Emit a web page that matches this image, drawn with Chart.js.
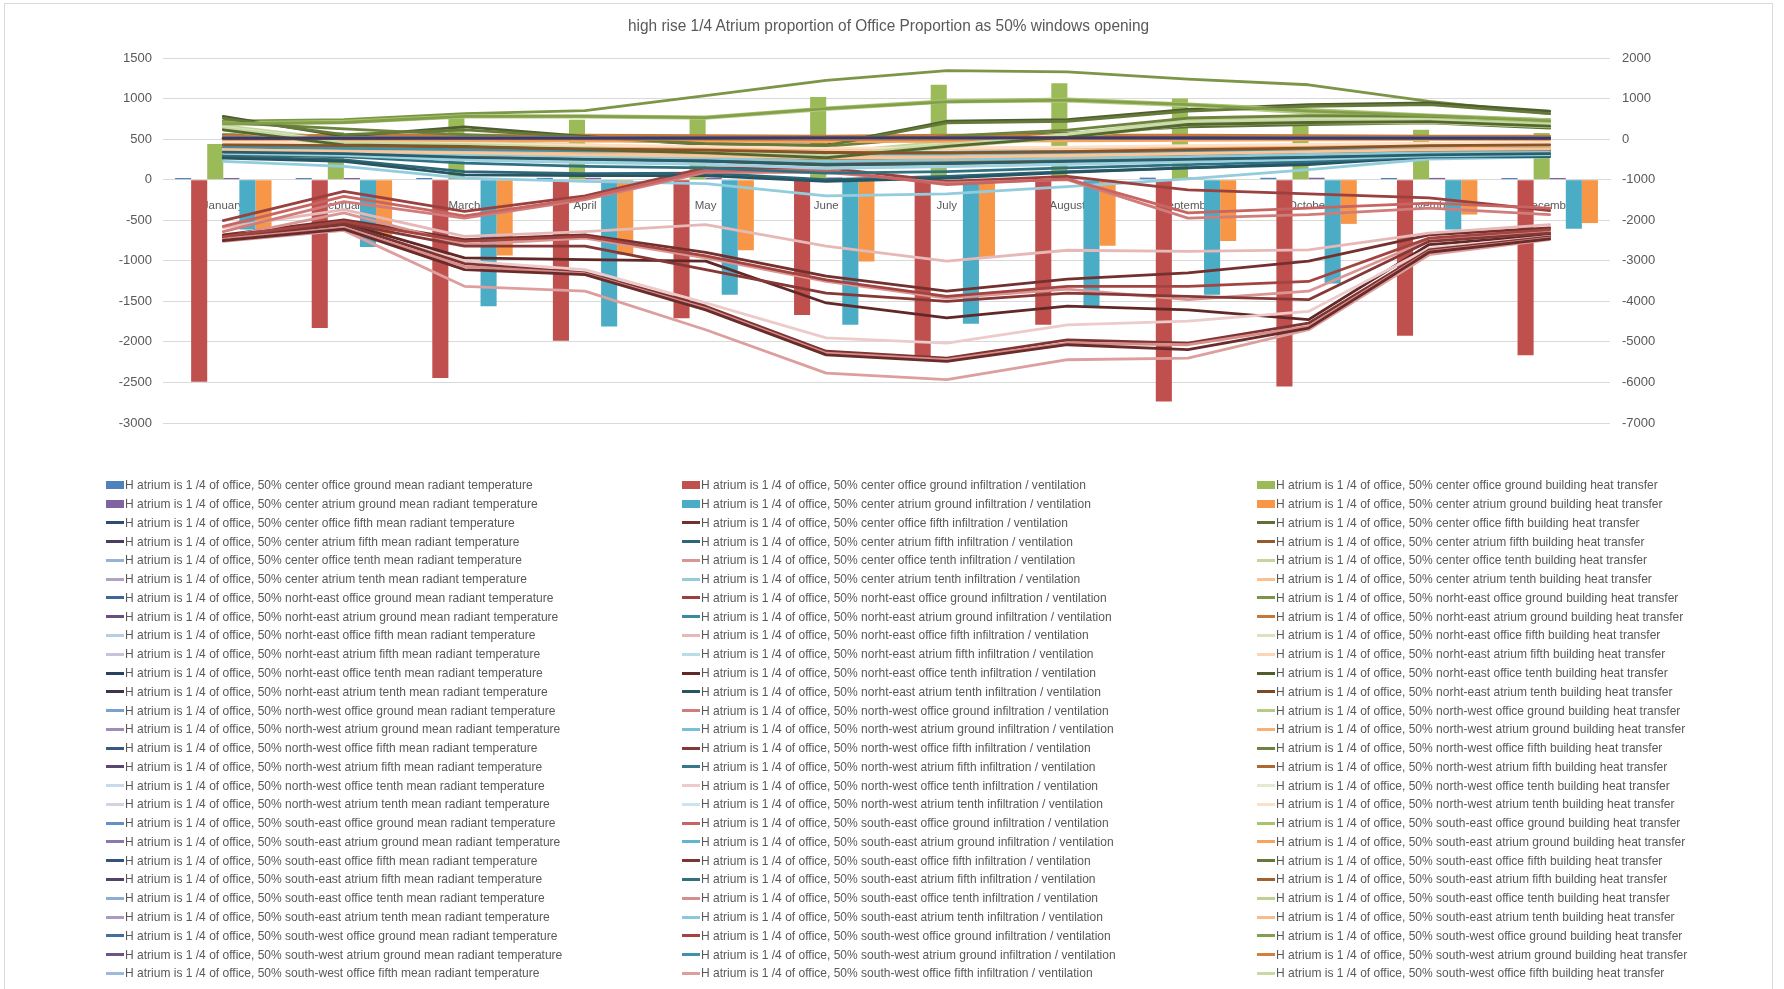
<!DOCTYPE html>
<html><head><meta charset="utf-8">
<script src="https://cdn.jsdelivr.net/npm/chart.js@4.4.0/dist/chart.umd.min.js"></script>
<style>
html,body{margin:0;padding:0;background:#fff;width:1784px;height:989px;overflow:hidden;}
#frame{position:absolute;left:4px;top:3px;width:1769px;height:1000px;border:1px solid #D9D9D9;box-sizing:border-box;}
#c{position:absolute;left:0;top:0;}
#title{position:absolute;top:17px;white-space:nowrap;color:#595959;font-family:"Liberation Sans",Arial,sans-serif;font-size:15.6px;line-height:18px;transform-origin:0 50%;}
.lg{position:absolute;height:18px;display:flex;align-items:center;white-space:nowrap;}
.lg .mk{display:inline-block;width:18px;flex:0 0 18px;}
.lg .tx{display:inline-block;margin-left:1px;color:#595959;font-family:"Liberation Sans",Arial,sans-serif;font-size:12.4px;line-height:18px;transform-origin:0 50%;}
</style></head>
<body>
<div id="frame"></div>
<canvas id="c" width="1784" height="989"></canvas>
<div id="title"></div>
<div id="legend"></div>
<script>
const chartTitle = 'high rise 1/4 Atrium proportion of Office Proportion as 50% windows opening';
const months = ['January','February','March','April','May','June','July','August','September','October','November','December'];
const locationNames = ['center','norht-east','north-west','south-east','south-west'];
const positionNames = ['office ground','atrium ground','office fifth','atrium fifth','office tenth','atrium tenth'];
const metricNames = ['mean radiant temperature','infiltration / ventilation','building heat transfer'];
const leftTickValues = [-3000,-2500,-2000,-1500,-1000,-500,0,500,1000,1500];
const rightTickValues = [-7000,-6000,-5000,-4000,-3000,-2000,-1000,0,1000,2000];

// ---- bars (primary axis) ----
const mrt_c_og = [20, 20, 21, 22, 24, 26, 27, 27, 25, 23, 21, 20];
const inf_c_og = [-2490, -1830, -2445, -1985, -1710, -1670, -2185, -1790, -2735, -2550, -1925, -2165];
const ht_c_og  = [440, 585, 790, 740, 750, 1020, 1170, 1190, 1000, 790, 615, 575];
const mrt_c_ag = [21, 21, 22, 23, 25, 27, 28, 28, 26, 24, 22, 21];
const inf_c_ag = [-615, -830, -1560, -1810, -1420, -1790, -1775, -1560, -1420, -1280, -615, -605];
const ht_c_ag  = [-680, -690, -935, -925, -870, -1010, -965, -815, -755, -545, -430, -535];

// ---- lines (secondary axis): mean radiant temperature ----
const mrt_c_o5  = [21, 21, 22, 24, 26, 28, 29, 29, 27, 25, 23, 21];
const mrt_c_a5  = [20, 20, 21, 23, 25, 27, 28, 28, 26, 24, 22, 20];
const mrt_c_o10 = [22, 22, 23, 25, 27, 29, 30, 30, 28, 26, 23, 22];
const mrt_c_a10 = [21, 21, 22, 24, 26, 28, 30, 29, 27, 25, 22, 21];
const mrt_ne_og = [19, 19, 21, 23, 25, 27, 29, 29, 26, 24, 21, 19];
const mrt_ne_ag = [18, 18, 20, 22, 24, 26, 28, 28, 25, 23, 20, 18];
const mrt_ne_o5 = [21, 21, 22, 24, 26, 28, 29, 29, 27, 25, 22, 21];
const mrt_ne_a5 = [20, 20, 21, 23, 25, 27, 28, 28, 26, 24, 21, 20];
const mrt_ne_o10 = [22, 22, 23, 25, 27, 29, 30, 30, 28, 26, 23, 22];
const mrt_ne_a10 = [21, 21, 22, 24, 26, 28, 29, 29, 27, 25, 22, 21];
const mrt_nw_og = [19, 19, 21, 23, 25, 28, 29, 29, 26, 24, 21, 19];
const mrt_nw_ag = [18, 18, 20, 22, 24, 26, 28, 28, 25, 23, 20, 18];
const mrt_nw_o5 = [21, 21, 22, 24, 26, 28, 30, 29, 27, 25, 23, 21];
const mrt_nw_a5 = [20, 20, 21, 23, 25, 27, 29, 28, 26, 24, 22, 20];
const mrt_nw_o10 = [22, 22, 23, 25, 27, 29, 31, 30, 28, 26, 23, 22];
const mrt_nw_a10 = [21, 21, 22, 24, 26, 28, 30, 29, 27, 25, 22, 21];
const mrt_se_og = [19, 20, 21, 23, 25, 27, 29, 29, 27, 24, 21, 19];
const mrt_se_ag = [18, 19, 20, 22, 24, 26, 28, 28, 26, 23, 20, 18];
const mrt_se_o5 = [21, 21, 23, 24, 26, 28, 30, 30, 28, 25, 23, 21];
const mrt_se_a5 = [20, 20, 22, 23, 25, 27, 29, 29, 27, 24, 22, 20];
const mrt_se_o10 = [22, 22, 24, 25, 27, 29, 31, 31, 29, 26, 23, 22];
const mrt_se_a10 = [21, 21, 23, 24, 26, 28, 30, 30, 28, 25, 22, 21];
const mrt_sw_og = [19, 19, 21, 23, 25, 28, 30, 29, 27, 24, 21, 19];
const mrt_sw_ag = [18, 18, 20, 22, 24, 27, 29, 28, 26, 23, 20, 18];
const mrt_sw_o5 = [21, 21, 22, 24, 26, 29, 30, 30, 28, 25, 23, 21];
const mrt_sw_a5 = [20, 20, 21, 23, 25, 28, 29, 29, 27, 24, 22, 20];
const mrt_sw_o10 = [22, 22, 23, 25, 27, 30, 31, 31, 29, 26, 23, 22];
const mrt_sw_a10 = [21, 21, 22, 24, 26, 29, 30, 30, 28, 25, 22, 21];

// ---- lines: infiltration / ventilation ----
const inf_c_o5  = [-2360, -1990, -2480, -2360, -2790, -3380, -3750, -3450, -3300, -3010, -2360, -2190];
const inf_c_a5  = [-430, -510, -800, -850, -840, -1000, -920, -800, -710, -590, -430, -380];
const inf_c_o10 = [-2420, -1820, -2600, -2440, -2930, -3510, -3920, -3700, -3960, -3750, -2480, -2280];
const inf_c_a10 = [-550, -670, -960, -1040, -1100, -1400, -1350, -1170, -980, -750, -490, -440];
const inf_ne_og = [-2010, -1290, -1780, -1400, -710, -710, -1040, -920, -1250, -1350, -1450, -1760];
const inf_ne_ag = [-160, -200, -220, -260, -280, -330, -300, -280, -260, -260, -240, -220];
const inf_ne_o5 = [-2180, -1740, -2400, -2280, -2110, -2640, -3010, -2740, -2770, -2730, -2320, -2110];
const inf_ne_a5 = [-220, -240, -260, -300, -340, -380, -360, -340, -330, -310, -290, -280];
const inf_ne_o10 = [-2380, -2070, -2930, -2970, -3010, -4040, -4410, -4120, -4210, -4450, -2600, -2360];
const inf_ne_a10 = [-470, -550, -880, -900, -900, -1040, -960, -820, -710, -630, -440, -430];
const inf_nw_og = [-2280, -1540, -1950, -1490, -820, -820, -1080, -1000, -1950, -1860, -1700, -1860];
const inf_nw_ag = [-260, -290, -300, -330, -360, -430, -380, -360, -340, -330, -300, -290];
const inf_nw_o5 = [-2460, -2070, -2640, -2640, -3220, -3800, -4000, -3800, -3880, -3960, -2520, -2320];
const inf_nw_a5 = [-330, -360, -430, -470, -510, -590, -550, -510, -470, -430, -380, -360];
const inf_nw_o10 = [-2480, -2150, -3010, -3220, -4040, -4900, -5030, -4580, -4490, -4250, -2690, -2400];
const inf_nw_a10 = [-340, -380, -470, -550, -610, -710, -670, -610, -550, -490, -430, -380];
const inf_se_og = [-2150, -1410, -1890, -1450, -770, -770, -1120, -980, -1820, -1700, -1580, -1700];
const inf_se_ag = [-180, -210, -240, -260, -290, -340, -330, -300, -290, -270, -240, -230];
const inf_se_o5 = [-2440, -2110, -3070, -3300, -4120, -5230, -5400, -4950, -5030, -4540, -2730, -2410];
const inf_se_a5 = [-380, -430, -590, -670, -710, -840, -800, -710, -630, -550, -440, -410];
const inf_se_o10 = [-2460, -2190, -3140, -3320, -4170, -5280, -5440, -5030, -5070, -4620, -2770, -2440];
const inf_se_a10 = [-300, -340, -380, -430, -470, -550, -510, -470, -430, -380, -340, -330];
const inf_sw_og = [-2400, -2030, -2520, -2400, -2880, -3470, -3880, -3630, -3630, -3510, -2440, -2230];
const inf_sw_ag = [-200, -230, -260, -290, -310, -360, -340, -320, -300, -290, -260, -240];
const inf_sw_o5 = [-2520, -2250, -3630, -3750, -4700, -5770, -5930, -5440, -5400, -4700, -2850, -2480];
const inf_sw_a5 = [-350, -400, -520, -580, -620, -720, -680, -620, -560, -500, -410, -380];
const inf_sw_o10 = [-2500, -2220, -3220, -3340, -4210, -5320, -5480, -5070, -5190, -4660, -2790, -2460];
const inf_sw_a10 = [-320, -360, -450, -500, -540, -630, -600, -550, -500, -450, -390, -360];

// ---- lines: building heat transfer ----
const ht_c_o5  = [110, 70, 50, 30, -10, -60, 70, 150, 300, 360, 400, 270];
const ht_c_a5  = [50, 50, 50, 50, 45, 35, 50, 60, 50, 45, 35, 25];
const ht_c_o10 = [330, -10, -60, -140, -220, -330, -60, 130, 460, 520, 510, 440];
const ht_c_a10 = [-160, -200, -230, -260, -300, -380, -410, -380, -330, -260, -200, -160];
const ht_ne_og = [440, 480, 630, 700, 1070, 1450, 1690, 1660, 1480, 1340, 930, 630];
const ht_ne_ag = [85, 85, 95, 95, 85, 75, 95, 100, 95, 85, 75, 70];
const ht_ne_o5 = [300, -60, -100, -180, -280, -380, -100, 110, 410, 480, 480, 400];
const ht_ne_a5 = [-110, -140, -160, -200, -220, -260, -260, -240, -220, -180, -140, -110];
const ht_ne_o10 = [560, 70, 300, 70, -140, -140, 440, 480, 730, 850, 890, 690];
const ht_ne_a10 = [-380, -430, -490, -520, -560, -660, -640, -550, -490, -430, -360, -340];
const ht_nw_og = [360, 400, 545, 545, 510, 730, 910, 940, 820, 640, 545, 410];
const ht_nw_ag = [-180, -180, -200, -210, -230, -240, -230, -210, -200, -180, -170, -160];
const ht_nw_o5 = [410, 250, 110, -10, -100, -180, 70, 220, 520, 580, 560, 480];
const ht_nw_a5 = [-300, -340, -380, -440, -470, -510, -490, -440, -380, -330, -280, -260];
const ht_nw_o10 = [250, -110, -160, -240, -330, -440, -160, 70, 380, 440, 440, 330];
const ht_nw_a10 = [-55, -80, -110, -150, -180, -220, -220, -200, -160, -130, -100, -80];
const ht_se_og = [400, 440, 580, 580, 545, 770, 950, 990, 870, 730, 600, 480];
const ht_se_ag = [-15, -15, -30, -50, -55, -60, -55, -40, -30, -20, -15, -15];
const ht_se_o5 = [510, 110, 230, 50, -110, -160, 400, 440, 690, 810, 850, 630];
const ht_se_a5 = [-340, -380, -440, -490, -520, -560, -540, -490, -430, -360, -310, -290];
const ht_se_o10 = [220, -160, -200, -290, -360, -470, -200, 40, 350, 400, 410, 300];
const ht_se_a10 = [-220, -240, -280, -320, -360, -430, -440, -410, -360, -300, -240, -210];
const ht_sw_og = [380, 410, 560, 560, 530, 750, 920, 960, 850, 690, 580, 450];
const ht_sw_ag = [20, 20, 10, 0, -5, -15, -5, 10, 20, 20, 20, 10];
const ht_sw_o5 = [270, -80, -130, -210, -300, -410, -130, 90, 400, 460, 460, 360];
const ht_sw_a5 = [-260, -300, -340, -390, -420, -460, -450, -400, -350, -310, -260, -240];
const ht_sw_o10 = [230, -140, -180, -260, -340, -460, -180, 50, 360, 410, 430, 320];
const ht_sw_a10 = [-140, -160, -200, -240, -270, -330, -340, -310, -260, -220, -160, -140];

// rows in series order: [mean radiant temperature, infiltration, heat transfer]
const rows = [
  [mrt_c_og, inf_c_og, ht_c_og], [mrt_c_ag, inf_c_ag, ht_c_ag],
  [mrt_c_o5, inf_c_o5, ht_c_o5], [mrt_c_a5, inf_c_a5, ht_c_a5],
  [mrt_c_o10, inf_c_o10, ht_c_o10], [mrt_c_a10, inf_c_a10, ht_c_a10],
  [mrt_ne_og, inf_ne_og, ht_ne_og], [mrt_ne_ag, inf_ne_ag, ht_ne_ag],
  [mrt_ne_o5, inf_ne_o5, ht_ne_o5], [mrt_ne_a5, inf_ne_a5, ht_ne_a5],
  [mrt_ne_o10, inf_ne_o10, ht_ne_o10], [mrt_ne_a10, inf_ne_a10, ht_ne_a10],
  [mrt_nw_og, inf_nw_og, ht_nw_og], [mrt_nw_ag, inf_nw_ag, ht_nw_ag],
  [mrt_nw_o5, inf_nw_o5, ht_nw_o5], [mrt_nw_a5, inf_nw_a5, ht_nw_a5],
  [mrt_nw_o10, inf_nw_o10, ht_nw_o10], [mrt_nw_a10, inf_nw_a10, ht_nw_a10],
  [mrt_se_og, inf_se_og, ht_se_og], [mrt_se_ag, inf_se_ag, ht_se_ag],
  [mrt_se_o5, inf_se_o5, ht_se_o5], [mrt_se_a5, inf_se_a5, ht_se_a5],
  [mrt_se_o10, inf_se_o10, ht_se_o10], [mrt_se_a10, inf_se_a10, ht_se_a10],
  [mrt_sw_og, inf_sw_og, ht_sw_og], [mrt_sw_ag, inf_sw_ag, ht_sw_ag],
  [mrt_sw_o5, inf_sw_o5, ht_sw_o5], [mrt_sw_a5, inf_sw_a5, ht_sw_a5],
  [mrt_sw_o10, inf_sw_o10, ht_sw_o10], [mrt_sw_a10, inf_sw_a10, ht_sw_a10]
];
const legendRowsShown = 27;

// ---- styling ----
const accents = ['#4F81BD','#C0504D','#9BBB59','#8064A2','#4BACC6','#F79646'];
const variations = [['b',0],['s',0.6],['t',0.4],['s',0.8],['t',0.6],['s',0.5],['t',0.25],['s',0.7],['t',0.7],['t',0.12],['s',0.65],['t',0.35],['s',0.85],['t',0.45],['s',0.55]];
function seriesColor(n){
  const hex = accents[n % 6];
  const v = variations[Math.floor(n / 6)] || ['b',0];
  let r = parseInt(hex.slice(1,3),16), g = parseInt(hex.slice(3,5),16), b = parseInt(hex.slice(5,7),16);
  const f = (c) => v[0]==='s' ? Math.round(c*v[1]) : v[0]==='t' ? Math.round(c+(255-c)*v[1]) : c;
  return 'rgb(' + f(r) + ',' + f(g) + ',' + f(b) + ')';
}
function labelFor(r, c){
  return 'H atrium is 1 /4 of office, 50% ' + locationNames[Math.floor(r/6)] + ' ' + positionNames[r%6] + ' ' + metricNames[c];
}

const datasets = [];
rows.forEach((row, r) => {
  row.forEach((vals, c) => {
    const n = r*3 + c;
    const col = seriesColor(n);
    if (r < 2) {
      datasets.push({type:'bar', label:labelFor(r,c), data:vals, yAxisID:'y', backgroundColor:col, borderWidth:0,
        barPercentage:1.0, categoryPercentage:0.8, order:1000});
    } else {
      datasets.push({type:'line', label:labelFor(r,c), data:vals, yAxisID:'y2', borderColor:col, backgroundColor:col,
        borderWidth:2.8, pointRadius:0, pointHoverRadius:0, fill:false, tension:0,
        borderJoinStyle:'round', borderCapStyle:'round', order:-n});
    }
  });
});

const tickFont = {family:'"Liberation Sans", Arial, sans-serif', size:13};
new Chart(document.getElementById('c'), {
  type:'bar',
  data:{labels:months, datasets:datasets},
  options:{
    responsive:false, animation:false, devicePixelRatio:1,
    layout:{padding:{left:0, right:0, top:58, bottom:566}},
    plugins:{legend:{display:false}, title:{display:false}, tooltip:{enabled:false}},
    scales:{
      x:{type:'category', position:{y:0}, offset:true,
         grid:{display:true, drawOnChartArea:false, drawTicks:true, tickLength:18, color:'rgba(0,0,0,0)'},
         border:{display:true, color:'#D9D9D9', width:1},
         ticks:{color:'#595959', font:{family:'"Liberation Sans", Arial, sans-serif', size:11.5}, padding:1, maxRotation:0, autoSkip:false}},
      y:{position:'left', min:-3000, max:1500,
         afterBuildTicks:(s)=>{ s.ticks = leftTickValues.map(v=>({value:v})); },
         ticks:{color:'#595959', font:tickFont, padding:11, callback:(v)=>String(v)},
         grid:{color:'#D9D9D9', drawTicks:false, lineWidth:1},
         border:{display:false},
         afterFit:(s)=>{ s.width = 163; }},
      y2:{position:'right', min:-7000, max:2000,
         afterBuildTicks:(s)=>{ s.ticks = rightTickValues.map(v=>({value:v})); },
         ticks:{color:'#595959', font:tickFont, padding:12, callback:(v)=>String(v)},
         grid:{display:false, drawTicks:false},
         border:{display:false},
         afterFit:(s)=>{ s.width = 174; }}
    }
  }
});

// ---- title and legend as HTML text ----
const mctx = document.createElement('canvas').getContext('2d');
function textWidth(t, font){ mctx.font = font; return mctx.measureText(t).width; }
const titleEl = document.getElementById('title');
titleEl.textContent = chartTitle;
titleEl.style.left = '628px';
titleEl.style.transform = 'scaleX(' + (522 / textWidth(chartTitle, '15.6px "Liberation Sans"')) + ')';

const legendEl = document.getElementById('legend');
const legendScale = 407.7 / textWidth(labelFor(0,0), '12.4px "Liberation Sans"');
const colX = [106, 682, 1257];
for (let r = 0; r < legendRowsShown; r++) {
  for (let c = 0; c < 3; c++) {
    const n = r*3 + c;
    const d = document.createElement('div');
    d.className = 'lg';
    d.style.left = colX[c] + 'px';
    d.style.top = (485.3 + r*18.77 - 9) + 'px';
    const mk = document.createElement('span');
    mk.className = 'mk';
    mk.style.background = seriesColor(n);
    mk.style.height = (r < 2 ? 8 : 3) + 'px';
    const tx = document.createElement('span');
    tx.className = 'tx';
    tx.textContent = labelFor(r, c);
    tx.style.transform = 'scaleX(' + legendScale + ')';
    d.appendChild(mk); d.appendChild(tx);
    legendEl.appendChild(d);
  }
}
</script>
</body></html>
